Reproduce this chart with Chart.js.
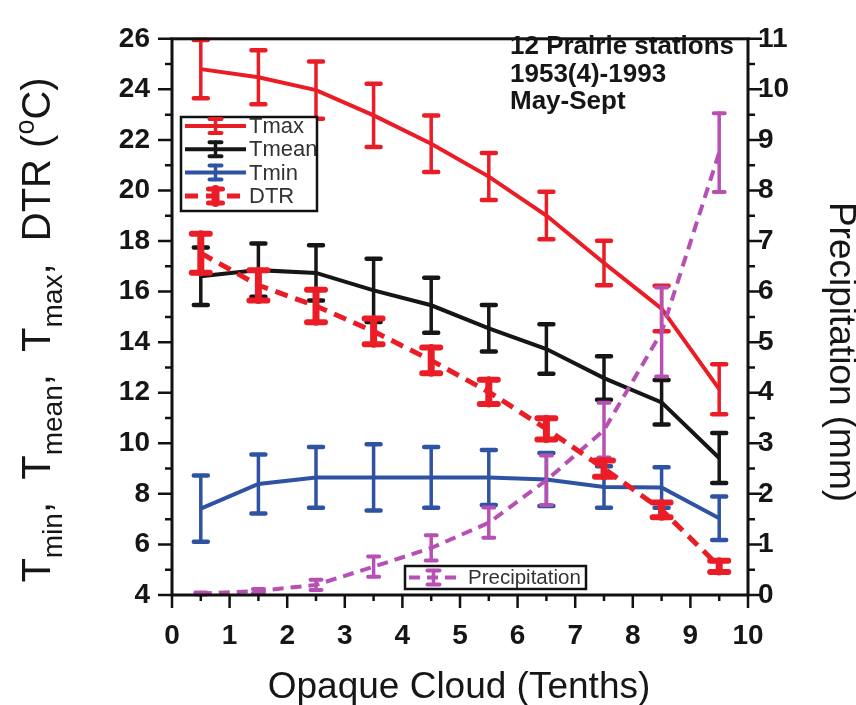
<!DOCTYPE html>
<html>
<head>
<meta charset="utf-8">
<title>Prairie temperature and precipitation vs opaque cloud</title>
<script src="https://cdn.jsdelivr.net/npm/chart.js@4.4.1/dist/chart.umd.min.js"></script>
<style>
  html, body { margin: 0; padding: 0; background: #fff; }
  #wrap { width: 856px; height: 705px; }
</style>
</head>
<body>
<div id="wrap"><canvas id="cloudChart" width="856" height="705"></canvas></div>
<script>
const FONT = "'Liberation Sans', Arial, Helvetica, sans-serif";

// opaque cloud class mid-points (tenths)
const cloud = [0.5, 1.5, 2.5, 3.5, 4.5, 5.5, 6.5, 7.5, 8.5, 9.5];

// temperatures (degC) with +/- error bar half-widths
const tmax     = [24.8, 24.48, 23.97, 22.97, 21.85, 20.55, 19.01, 17.13, 15.33, 12.14];
const tmaxErr  = [1.15, 1.07, 1.13, 1.25, 1.12, 0.93, 0.94, 0.88, 0.9, 0.99];
const tmean    = [16.61, 16.85, 16.74, 16.05, 15.46, 14.55, 13.73, 12.58, 11.62, 9.42];
const tmeanErr = [1.14, 1.05, 1.09, 1.25, 1.09, 0.92, 0.98, 0.86, 0.88, 0.99];
const tmin     = [7.42, 8.39, 8.65, 8.65, 8.65, 8.65, 8.57, 8.27, 8.25, 7.04];
const tminErr  = [1.31, 1.17, 1.2, 1.31, 1.2, 1.09, 1.05, 0.82, 0.8, 0.86];
const dtr      = [17.52, 16.25, 15.43, 14.43, 13.28, 12.03, 10.57, 9.0, 7.37, 5.13];
const dtrErr   = [0.77, 0.6, 0.64, 0.51, 0.51, 0.48, 0.42, 0.32, 0.29, 0.22];

// precipitation (mm), right axis
const precip    = [0.03, 0.08, 0.2, 0.56, 0.93, 1.43, 2.27, 3.26, 5.2, 8.75];
const precipErr = [0.02, 0.04, 0.1, 0.2, 0.25, 0.3, 0.49, 0.54, 0.88, 0.78];

// axis tick labels
const cloudTicks  = [0, 1, 2, 3, 4, 5, 6, 7, 8, 9, 10];
const tempTicks   = [4, 6, 8, 10, 12, 14, 16, 18, 20, 22, 24, 26];
const precipTicks = [0, 1, 2, 3, 4, 5, 6, 7, 8, 9, 10, 11];

const noteLines = ["12 Prairie stations", "1953(4)-1993", "May-Sept"];

const RED = "#ea1d26", BLACK = "#161616", BLUE = "#2f53a3", PURPLE = "#b650b2";

const pts = vals => vals.map((v, i) => ({ x: cloud[i], y: v }));

function series(label, vals, errs, color, extra) {
  return Object.assign({
    label,
    data: pts(vals),
    errs,
    borderColor: color,
    backgroundColor: color,
    borderWidth: 4,
    pointRadius: 0,
    tension: 0,
    yAxisID: "y",
    errStem: 3.5, errCapW: 14, errCapT: 4.5
  }, extra || {});
}

const datasets = [
  series("DTR", dtr, dtrErr, RED, { order: 0, borderWidth: 5, borderDash: [13, 8], errStem: 7, errCapW: 18, errCapT: 6 }),
  series("Precipitation", precip, precipErr, PURPLE, { order: 1, yAxisID: "y2", borderDash: [11, 7], errStem: 3.5, errCapW: 11, errCapT: 4 }),
  series("Tmax", tmax, tmaxErr, RED, { order: 2 }),
  series("Tmean", tmean, tmeanErr, BLACK, { order: 3 }),
  series("Tmin", tmin, tminErr, BLUE, { order: 4 })
];

// vertical error bars, drawn right after each line
const errorBars = {
  id: "errorBars",
  afterDatasetDraw(chart, args) {
    const ds = chart.data.datasets[args.index];
    if (!ds.errs) return;
    const { ctx } = chart;
    const xs = chart.scales.x, ys = chart.scales[ds.yAxisID];
    ctx.save();
    ctx.strokeStyle = ds.borderColor;
    ctx.lineCap = "round";
    ds.data.forEach((p, i) => {
      const px = xs.getPixelForValue(p.x);
      const top = ys.getPixelForValue(p.y + ds.errs[i]);
      const bot = ys.getPixelForValue(p.y - ds.errs[i]);
      ctx.lineWidth = ds.errStem;
      ctx.beginPath();
      ctx.moveTo(px, top); ctx.lineTo(px, bot);
      ctx.stroke();
      ctx.lineWidth = ds.errCapT;
      ctx.beginPath();
      ctx.moveTo(px - ds.errCapW / 2, top); ctx.lineTo(px + ds.errCapW / 2, top);
      ctx.moveTo(px - ds.errCapW / 2, bot); ctx.lineTo(px + ds.errCapW / 2, bot);
      ctx.stroke();
    });
    ctx.restore();
  }
};

function legendIcon(ctx, x, y, color, big) {
  ctx.strokeStyle = color;
  ctx.lineCap = "round";
  const h = 7, w = big ? 14 : 12;
  ctx.lineWidth = big ? 8 : 3.5;
  ctx.beginPath(); ctx.moveTo(x, y - h); ctx.lineTo(x, y + h); ctx.stroke();
  ctx.lineWidth = big ? 5 : 4;
  ctx.beginPath();
  ctx.moveTo(x - w / 2, y - h); ctx.lineTo(x + w / 2, y - h);
  ctx.moveTo(x - w / 2, y + h); ctx.lineTo(x + w / 2, y + h);
  ctx.stroke();
}

function legendRow(ctx, x0, x1, y, ds, textX, size) {
  ctx.save();
  ctx.strokeStyle = ds.borderColor;
  ctx.lineWidth = ds.borderWidth;
  ctx.setLineDash(ds.borderDash || []);
  ctx.beginPath(); ctx.moveTo(x0, y); ctx.lineTo(x1, y); ctx.stroke();
  ctx.setLineDash([]);
  legendIcon(ctx, (x0 + x1) / 2, y, ds.borderColor, ds.label === "DTR");
  ctx.fillStyle = "#333";
  ctx.font = size + "px " + FONT;
  ctx.textBaseline = "middle";
  ctx.textAlign = "left";
  ctx.fillText(ds.label, textX, y + 1);
  ctx.restore();
}

// draws a run of text pieces (for sub/superscripts) centred on cx,cy
function drawRich(ctx, parts, cx, cy, angle) {
  ctx.save();
  ctx.translate(cx, cy);
  ctx.rotate(angle);
  ctx.textBaseline = "alphabetic";
  ctx.textAlign = "left";
  let total = 0;
  parts.forEach(p => { ctx.font = p.size + "px " + FONT; p.w = ctx.measureText(p.t).width; total += p.w; });
  let x = -total / 2;
  parts.forEach(p => {
    ctx.font = p.size + "px " + FONT;
    ctx.fillText(p.t, x, p.dy || 0);
    x += p.w;
  });
  ctx.restore();
}

const decorations = {
  id: "decorations",
  afterDraw(chart) {
    const { ctx, chartArea: a, scales } = chart;
    const byLabel = l => chart.data.datasets.find(d => d.label === l);
    ctx.save();

    // tick marks (major at labels, minor half way between)
    ctx.strokeStyle = "#111";
    ctx.lineWidth = 2.5;
    ctx.beginPath();
    const marks = (scale, fn, major, minor) => {
      const t = scale.ticks;
      t.forEach((tk, i) => {
        fn(scale.getPixelForValue(tk.value), major);
        if (i < t.length - 1) fn(scale.getPixelForValue((tk.value + t[i + 1].value) / 2), minor);
      });
    };
    marks(scales.x, (p, len) => { ctx.moveTo(p, a.bottom); ctx.lineTo(p, a.bottom + len); }, 13, 6);
    marks(scales.y, (p, len) => { ctx.moveTo(a.left, p); ctx.lineTo(a.left - len, p); }, 14, 7);
    marks(scales.y2, (p, len) => { ctx.moveTo(a.right, p); ctx.lineTo(a.right + len, p); }, 14, 7);
    ctx.stroke();

    ctx.lineWidth = 3;
    ctx.strokeRect(a.left, a.top, a.right - a.left, a.bottom - a.top);

    // axis titles
    ctx.fillStyle = "#161616";
    ctx.font = "37px " + FONT;
    ctx.textAlign = "center";
    ctx.textBaseline = "alphabetic";
    ctx.fillText("Opaque Cloud (Tenths)", 459, 698);
    drawRich(ctx, [{ t: "Precipitation (mm)", size: 37 }], 830, 352, Math.PI / 2);
    drawRich(ctx, [
      { t: "T", size: 40 }, { t: "min", size: 28, dy: 12 }, { t: ",  ", size: 40 },
      { t: "T", size: 40 }, { t: "mean", size: 28, dy: 12 }, { t: ",  ", size: 40 },
      { t: "T", size: 40 }, { t: "max", size: 28, dy: 12 }, { t: ",  DTR (", size: 40 },
      { t: "o", size: 27, dy: -16 }, { t: "C)", size: 40 }
    ], 50, 330, -Math.PI / 2);

    // station note
    ctx.font = "bold 26px " + FONT;
    ctx.textAlign = "left";
    noteLines.forEach((s, i) => ctx.fillText(s, 510, 54 + i * 27.5));

    // legend boxes
    ctx.fillStyle = "#fff";
    ctx.fillRect(181, 117, 136, 94);
    ctx.lineWidth = 2.5;
    ctx.strokeStyle = "#111";
    ctx.strokeRect(181, 117, 136, 94);
    ["Tmax", "Tmean", "Tmin", "DTR"].forEach((l, i) =>
      legendRow(ctx, 185, 246, 126 + i * 23.3, byLabel(l), 249, 22));

    ctx.fillStyle = "#fff";
    ctx.fillRect(405, 566, 181, 23);
    ctx.strokeStyle = "#111";
    ctx.strokeRect(405, 566, 181, 23);
    legendRow(ctx, 409, 458, 577.5, byLabel("Precipitation"), 468, 20.5);

    ctx.restore();
  }
};

const setTicks = vals => scale => { scale.ticks = vals.map(v => ({ value: v })); };
const tickFont = { family: FONT, size: 28, weight: "bold" };

new Chart(document.getElementById("cloudChart"), {
  type: "line",
  data: { datasets },
  options: {
    responsive: false,
    devicePixelRatio: 1,
    animation: false,
    events: [],
    layout: { padding: { top: 21, left: 0, right: 0, bottom: 0 } },
    plugins: { legend: { display: false }, tooltip: { enabled: false } },
    scales: {
      x: {
        type: "linear", min: 0, max: 10,
        afterBuildTicks: setTicks(cloudTicks),
        afterFit: s => { s.height = 110; },
        grid: { display: false, drawTicks: false },
        border: { display: false },
        ticks: { font: tickFont, color: "#161616", padding: 24, maxRotation: 0 }
      },
      y: {
        type: "linear", position: "left", min: 4, max: 26,
        afterBuildTicks: setTicks(tempTicks),
        afterFit: s => { s.width = 172; },
        grid: { display: false, drawTicks: false },
        border: { display: false },
        ticks: { font: tickFont, color: "#161616", padding: 22 }
      },
      y2: {
        type: "linear", position: "right", min: 0, max: 11,
        afterBuildTicks: setTicks(precipTicks),
        afterFit: s => { s.width = 108; },
        grid: { display: false, drawTicks: false },
        border: { display: false },
        ticks: { font: tickFont, color: "#161616", padding: 10 }
      }
    }
  },
  plugins: [errorBars, decorations]
});
</script>
</body>
</html>
